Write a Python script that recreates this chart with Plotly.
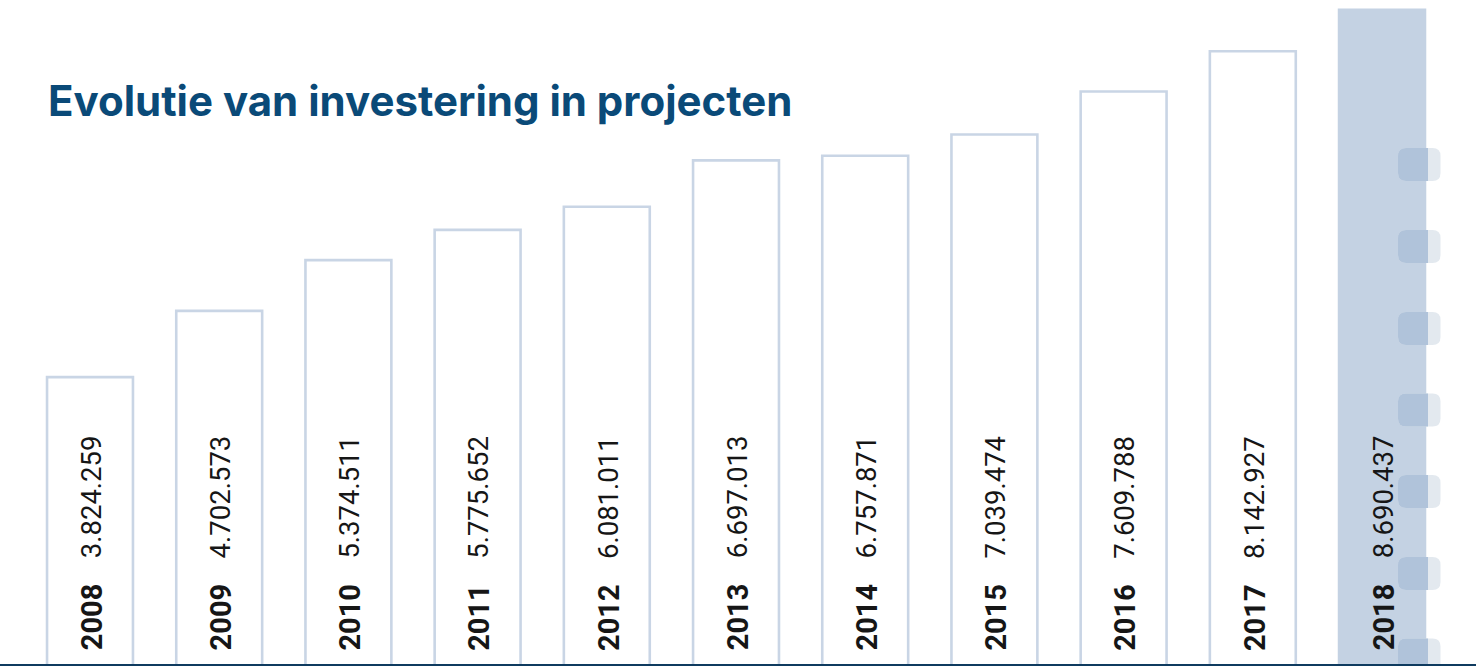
import plotly.graph_objects as go

years = ["2008", "2009", "2010", "2011", "2012", "2013", "2014", "2015", "2016", "2017", "2018"]
values = [3824259, 4702573, 5374511, 5775652, 6081011, 6697013, 6757871, 7039474, 7609788, 8142927, 8690437]
title_text = "Evolutie van investering in projecten"

W, H = 1476, 666
OUTLINE = "#c9d5e5"
HILITE = "#c4d2e3"
TXT = "#161616"

fills = ["white"] * (len(years) - 1) + [HILITE]
lines = [OUTLINE] * (len(years) - 1) + [HILITE]

fig = go.Figure(go.Bar(
    x=years, y=values, width=0.665,
    marker=dict(color=fills, line=dict(color=lines, width=2.6)),
    hoverinfo="skip",
))

def fmt(v):
    return f"{v:,}".replace(",", ".")

ann = []
for i, (yr, v) in enumerate(zip(years, values)):
    ann.append(dict(x=i, y=0, xref="x", yref="y", text=f"<b>{yr}</b>", textangle=-90,
                    showarrow=False, xanchor="center", yanchor="bottom", yshift=13, xshift=2,
                    font=dict(family="Roboto", size=29, color=TXT)))
    ann.append(dict(x=i, y=0, xref="x", yref="y", text=fmt(v), textangle=-90,
                    showarrow=False, xanchor="center", yanchor="bottom", yshift=105, xshift=1,
                    font=dict(family="Roboto", size=27.5, color=TXT)))

ann.append(dict(x=46 / W, y=1 - 101 / H, xref="paper", yref="paper", text=title_text,
                showarrow=False, xanchor="left", yanchor="middle",
                font=dict(family="Inter", size=42, color="#0a4a78", weight=700)))

def P(px, py):
    return f"{px / W:.6f},{1 - py / H:.6f}"

def rrect(x0, y0, x1, y1, r, round_left=True, round_right=True):
    s = ""
    if round_left:
        s += f"M{P(x0, y0 + r)} Q{P(x0, y0)} {P(x0 + r, y0)} "
    else:
        s += f"M{P(x0, y0)} "
    if round_right:
        s += f"L{P(x1 - r, y0)} Q{P(x1, y0)} {P(x1, y0 + r)} L{P(x1, y1 - r)} Q{P(x1, y1)} {P(x1 - r, y1)} "
    else:
        s += f"L{P(x1, y0)} L{P(x1, y1)} "
    if round_left:
        s += f"L{P(x0 + r, y1)} Q{P(x0, y1)} {P(x0, y1 - r)} Z"
    else:
        s += f"L{P(x0, y1)} Z"
    return s

shapes = []
tab_tops = [148, 230, 312, 393.5, 475, 557, 638.5]
for t in tab_tops:
    shapes.append(dict(type="path", xref="paper", yref="paper", layer="above",
                       path=rrect(1398, t, 1440.5, t + 33, 8), fillcolor="#e3e9ef", line=dict(width=0)))
    shapes.append(dict(type="path", xref="paper", yref="paper", layer="above",
                       path=rrect(1398, t, 1428, t + 33, 8, True, False), fillcolor="#b0c3da", line=dict(width=0)))

shapes.append(dict(type="line", xref="paper", yref="paper", x0=0, x1=1, y0=1 - 665 / H, y1=1 - 665 / H,
                   layer="above", line=dict(color="#0f3b5f", width=2)))

fig.update_layout(
    width=W, height=H, margin=dict(l=0, r=0, t=0, b=0),
    paper_bgcolor="white", plot_bgcolor="white",
    showlegend=False, annotations=ann, shapes=shapes,
    xaxis=dict(type="category", range=[-0.6966, 10.7274], showticklabels=False, showgrid=False,
               zeroline=False, showline=False, ticks=""),
    yaxis=dict(range=[-4000, 8821700], showticklabels=False, showgrid=False,
               zeroline=False, showline=False, ticks=""),
)

fig.write_html("out.html", config={"displayModeBar": False},
               post_script="document.body.style.margin='0';document.body.style.overflow='hidden';")
